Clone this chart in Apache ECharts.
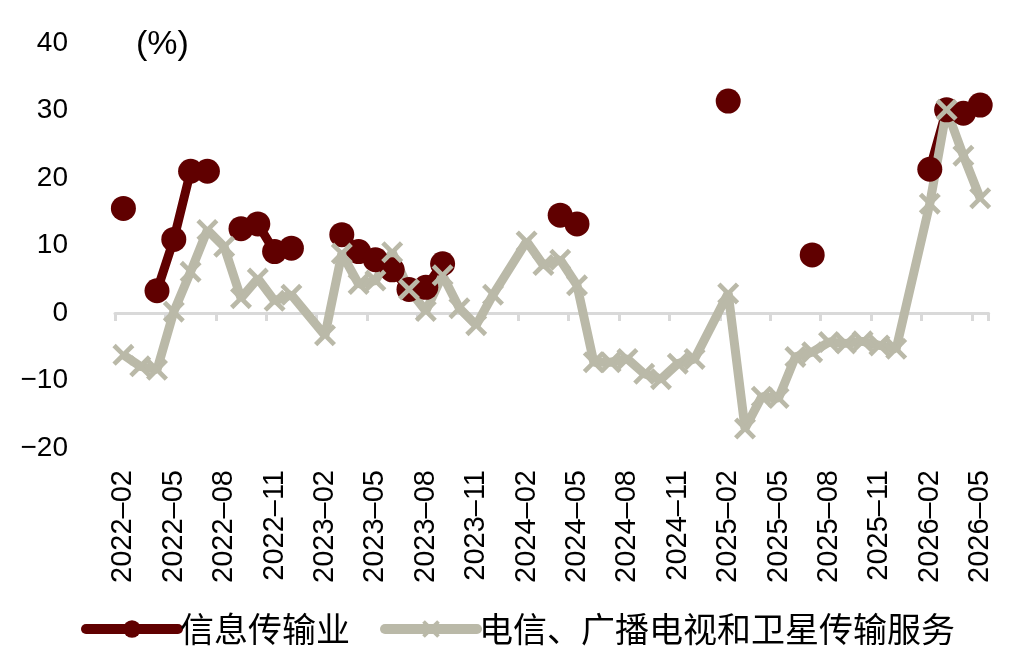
<!DOCTYPE html>
<html>
<head>
<meta charset="utf-8">
<script src="https://cdn.jsdelivr.net/npm/echarts@6/dist/echarts.min.js"></script>
<style>
  html, body { margin: 0; padding: 0; background: #fff; }
  #main { width: 1030px; height: 653px; }
</style>
</head>
<body>
<div id="main"></div>
<script>
// 月份
var months = [
  '2022–02','2022–03','2022–04','2022–05','2022–06','2022–07','2022–08','2022–09','2022–10','2022–11','2022–12',
  '2023–01','2023–02','2023–03','2023–04','2023–05','2023–06','2023–07','2023–08','2023–09','2023–10','2023–11','2023–12',
  '2024–01','2024–02','2024–03','2024–04','2024–05','2024–06','2024–07','2024–08','2024–09','2024–10','2024–11','2024–12',
  '2025–01','2025–02','2025–03','2025–04','2025–05','2025–06','2025–07','2025–08','2025–09','2025–10','2025–11','2025–12',
  '2026–01','2026–02','2026–03','2026–04','2026–05'
];
// 信息传输业
var infoTrans = [
  15.5, null, 3.3, 10.9, 21.0, 21.0, null, 12.5, 13.2, 9.1, 9.6,
  null, null, 11.6, 9.1, 7.9, 6.4, 3.5, 3.8, 7.3, null, null, null,
  null, null, null, 14.5, 13.2, null, null, null, null, null, null, null,
  null, 31.4, null, null, null, null, 8.6, null, null, null, null, null,
  null, 21.3, 30.1, 29.6, 30.8
];
// 电信、广播电视和卫星传输服务
var telecom = [
  -6.2, -7.9, -8.4, 0.2, 6.1, 12.3, 9.8, 2.2, 5.1, 1.8, 2.7,
  null, -3.3, 8.8, 4.3, 4.8, 9.0, 3.5, 0.3, 5.6, 0.7, -1.8, 2.7,
  null, 10.6, 7.1, 7.9, 4.1, -7.3, -7.3, -6.8, -9.0, -9.8, -7.5, -6.8,
  null, 2.9, -17.1, -12.4, -12.6, -6.5, -5.8, -4.3, -4.5, -4.2, -4.8, -5.3,
  null, 16.2, 30.1, 23.3, 17.0
];
var seriesNames = ['信息传输业', '电信、广播电视和卫星传输服务'];
var yTicks = { min: -20, max: 40, step: 10 };

var RED = '#600000';
var GRAY = '#BAB9A8';
// X 形标记
var crossPath = 'path://M0,1.5 L1.5,0 L5,3.5 L8.5,0 L10,1.5 L6.5,5 L10,8.5 L8.5,10 L5,6.5 L1.5,10 L0,8.5 L3.5,5 Z';
var latin = '"Liberation Sans", Arial, sans-serif';
var cjk = '"Noto Sans CJK SC", sans-serif';

var myChart = echarts.init(document.getElementById('main'));
var option = {
  animation: false,
  grid: { left: 115, right: 41.4, top: 43, bottom: 205 },
  graphic: [{
    type: 'text', left: 136, top: 28,
    style: { text: '(%)', fontSize: 34, fontFamily: latin, fill: '#000' }
  }],
  legend: {
    data: seriesNames,
    bottom: 2,
    left: 76,
    itemWidth: 92,
    itemHeight: 22,
    itemGap: 30,
    lineStyle: { width: 10, cap: 'round' },
    textStyle: { fontSize: 34, fontFamily: cjk, color: '#000', padding: [0, 0, 0, -3] }
  },
  xAxis: [{
    type: 'category',
    data: months,
    position: 'bottom',
    axisLine: { show: true, onZero: true, lineStyle: { color: '#D9D9D9', width: 3 } },
    axisTick: { show: true, interval: 2, length: 8, lineStyle: { color: '#D9D9D9', width: 3 } },
    axisLabel: { show: false }
  }, {
    type: 'category',
    data: months,
    position: 'bottom',
    axisLine: { show: false, onZero: false },
    axisTick: { show: false },
    axisLabel: {
      interval: 2, rotate: 90, margin: 22,
      fontSize: 29, fontFamily: latin, color: '#000'
    }
  }],
  yAxis: {
    type: 'value',
    min: yTicks.min, max: yTicks.max, interval: yTicks.step,
    splitLine: { show: false },
    axisLine: { show: false },
    axisTick: { show: false },
    axisLabel: {
      margin: 47, fontSize: 28, fontFamily: latin, color: '#000',
      formatter: function (v) { return String(v).replace('-', '\u2212'); }
    }
  },
  series: [{
    name: seriesNames[0],
    type: 'line',
    data: infoTrans,
    connectNulls: false,
    showAllSymbol: true,
    symbol: 'circle',
    symbolSize: 25,
    color: RED,
    itemStyle: { color: RED },
    lineStyle: { color: RED, width: 9 },
    emphasis: { disabled: true }
  }, {
    name: seriesNames[1],
    type: 'line',
    data: telecom,
    connectNulls: true,
    showAllSymbol: true,
    symbol: crossPath,
    symbolSize: 22,
    color: GRAY,
    itemStyle: { color: GRAY },
    lineStyle: { color: GRAY, width: 9 },
    emphasis: { disabled: true }
  }]
};
myChart.setOption(option);
</script>
</body>
</html>
